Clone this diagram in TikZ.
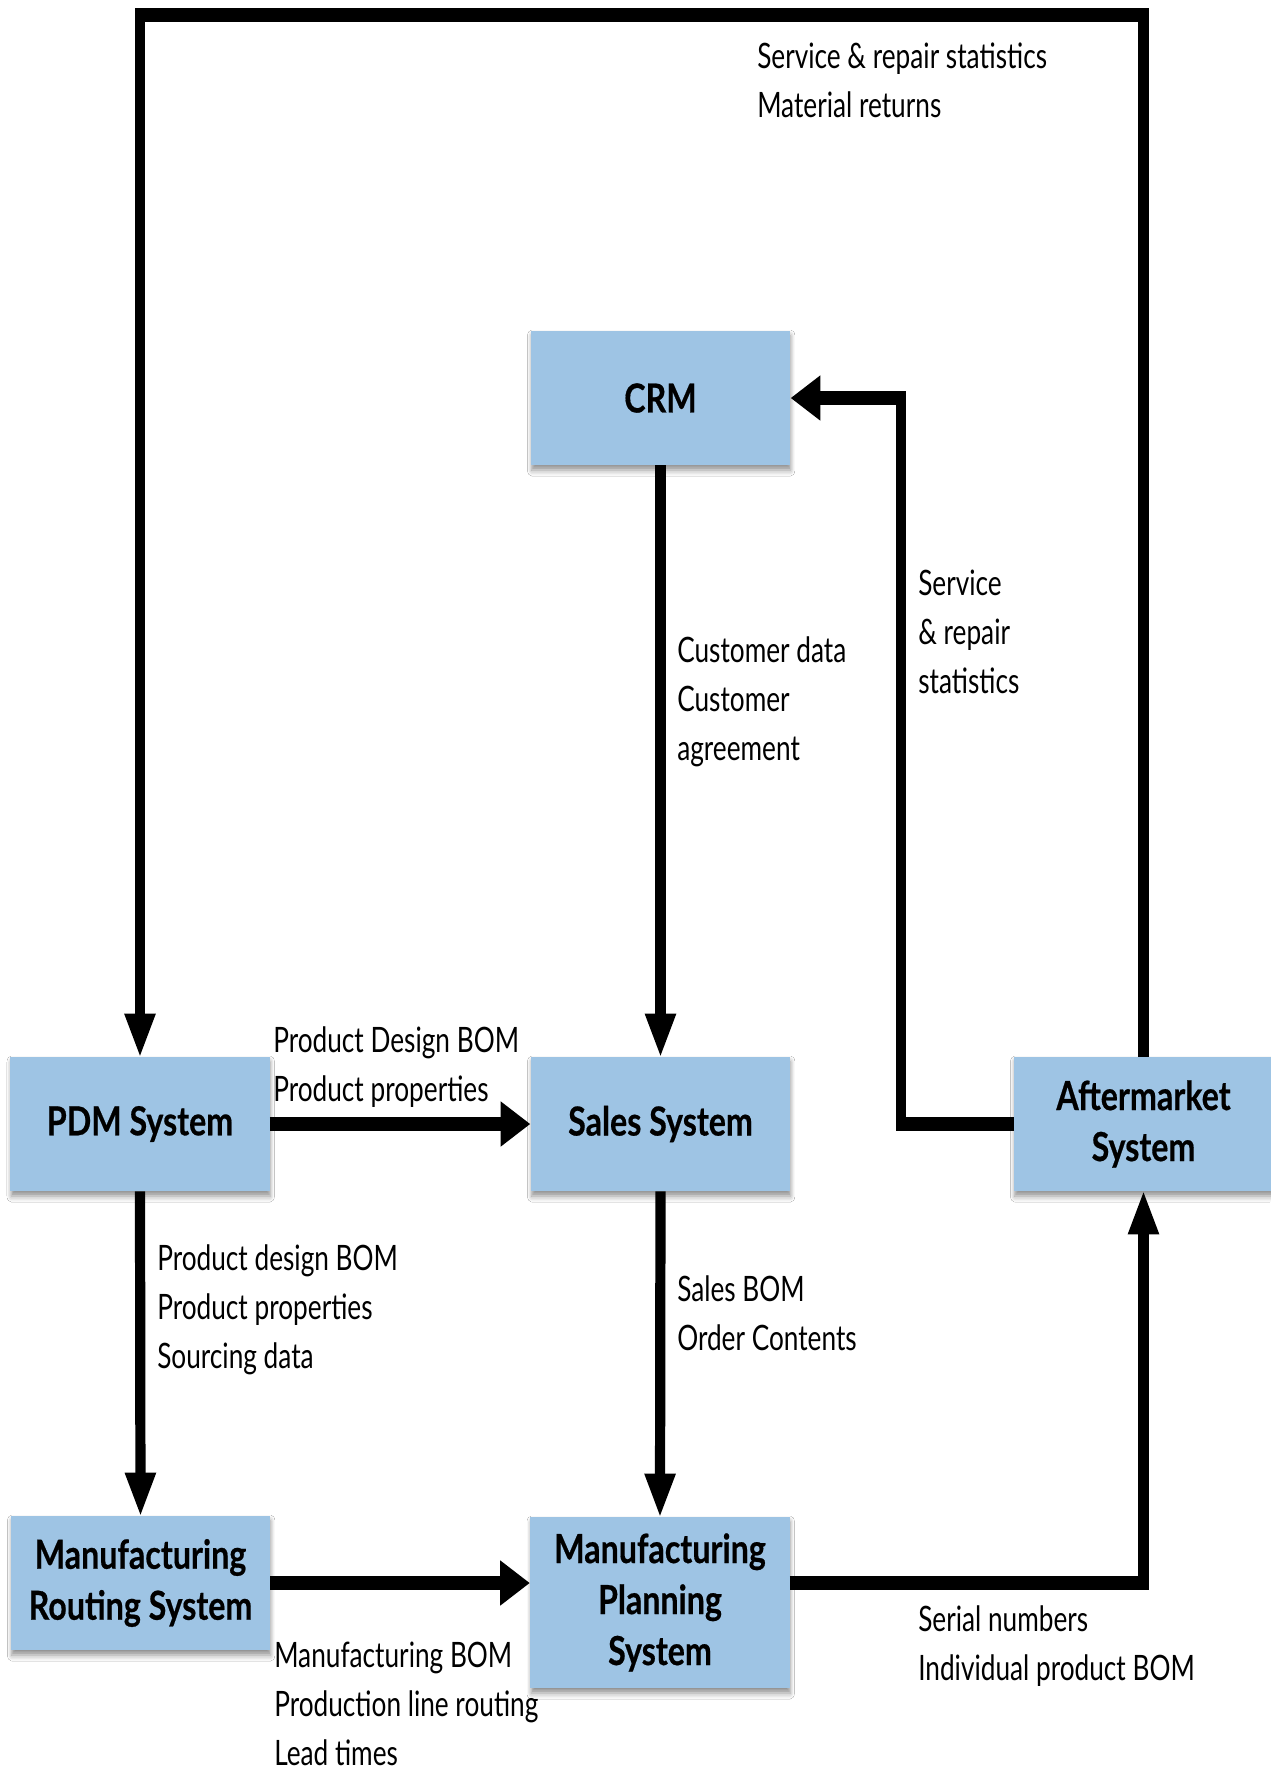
\documentclass[tikz,border=0pt]{standalone}
\usepackage{fontspec}
\setmainfont{Lato}[FakeStretch=1.07]
\newfontfamily\titlefont{Lato}[FakeStretch=1.15, BoldFeatures={FakeBold=0.6}]
\usetikzlibrary{arrows.meta,shadows.blur}
\definecolor{boxblue}{RGB}{158,196,228}
\begin{document}
\begin{tikzpicture}[x=0.5pt,y=-0.5pt]
\useasboundingbox (0,0) rectangle (1270,1773);
\fill[white] (0,0) rectangle (1270,1773);
% the whole drawing is set in a horizontally condensed frame
\begin{scope}[transform canvas={xscale=0.7}, x=0.7142857pt, y=-0.5pt,
  sysbox/.style={fill=boxblue, minimum width=185pt, minimum height=67pt,
    inner sep=0pt, align=center,
    font=\titlefont\bfseries\fontsize{20}{25.5}\selectfont,
    blur shadow={shadow xshift=0.5pt, shadow yshift=-2.5pt,
      shadow blur radius=3pt, shadow opacity=45}},
  flow/.style={line width=7.3pt, line join=miter,
    -{Triangle[length=21.5pt,width=21pt]}},
  lbl/.style={anchor=base west, inner sep=0pt, align=left,
    font=\fontsize{17.5}{24.5}\selectfont}]

% systems
\node[sysbox] (crm)   at (660.5,398)  {CRM};
\node[sysbox] (pdm)   at (140,1124)   {PDM System};
\node[sysbox] (sales) at (660.5,1124) {Sales System};
\node[sysbox] (after) at (1143.5,1124) {Aftermarket\\System};
\node[sysbox] (rout)  at (140.5,1583) {Manufacturing\\Routing System};
\node[sysbox, minimum height=85.5pt] (mps) at (660,1602.5)
  {Manufacturing\\Planning\\System};

% routing helpers
\coordinate (top)  at (0,15);
\coordinate (bend) at (901,398);

% data flows
\draw[flow] (after.north) -- (after.north |- top) -- (pdm.north |- top) -- (pdm.north);
\draw[flow] (crm.south) -- (sales.north);
\draw[flow] (after.west) -- (after.west -| bend) -- (crm.east -| bend) -- (crm.east);
\draw[flow] (pdm.east) -- (sales.west);
\draw[flow] (pdm.south) -- (rout.north);
\draw[flow] (sales.south) -- (mps.north);
\draw[flow] (rout.east) -- (rout.east -| mps.west);
\draw[flow] (mps.east |- rout.east) -- (after.south |- rout.east) -- (after.south);

% flow labels (placed by the baseline of their last line)
\node[lbl] (l1) at (757,117)  {Service \& repair statistics\\Material returns};
\node[lbl] (l2) at (677,760)  {Customer data\\Customer\\agreement};
\node[lbl] (l3) at (918,693)  {Service\\\& repair\\statistics};
\node[lbl] (l4) at (273,1101) {Product Design BOM\\Product properties};
\node[lbl] (l5) at (157,1368) {Product design BOM\\Product properties\\Sourcing data};
\node[lbl] (l6) at (677,1350) {Sales BOM\\Order Contents};
\node[lbl] (l7) at (274,1765) {Manufacturing BOM\\Production line routing\\Lead times};
\node[lbl] (l8) at (918,1680) {Serial numbers\\Individual product BOM};
\end{scope}
\end{tikzpicture}
\end{document}
